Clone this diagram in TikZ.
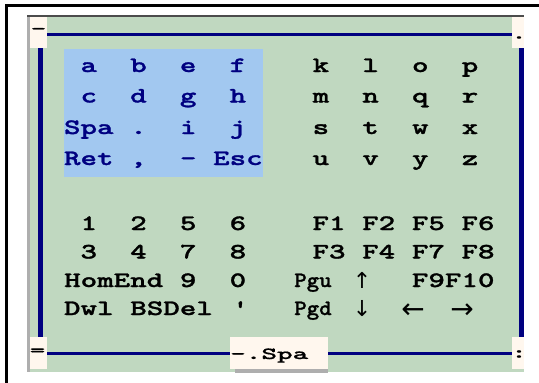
\documentclass[tikz,border=0pt]{standalone}
\usepackage{fontspec}
\newfontfamily\keyfont{lmmonolt10-bold}[Extension=.otf, FakeStretch=1.43, FakeBold=1.2]
\newfontfamily\narrowfont{lmmonolt10-bold}[Extension=.otf, FakeStretch=1.08, FakeBold=1.2]
\newfontfamily\tabfont{lmmonolt10-bold}[Extension=.otf, FakeStretch=1.75, FakeBold=0.8]
\newfontfamily\arrowfont{DejaVu Sans}
\definecolor{kbGreen}{HTML}{C0D8C0}
\definecolor{kbShade}{HTML}{AEAEAE}
\definecolor{kbNavy}{HTML}{000080}
\definecolor{kbSelect}{HTML}{A2C8F0}
\definecolor{kbCream}{HTML}{FFF7EE}

\begin{document}
\begin{tikzpicture}[x=1pt, y=-1pt,
  keycap/.style={anchor=base, inner sep=0pt, font=\fontsize{22}{22}\selectfont\keyfont},
  selcap/.style={keycap, text=kbNavy},
  pagecap/.style={keycap, font=\fontsize{22}{22}\selectfont\narrowfont},
  tabchar/.style={inner sep=0pt, font=\fontsize{17}{17}\selectfont\tabfont},
  arrowcap/.style={inner sep=0pt, font=\fontsize{22}{22}\selectfont\arrowfont},
  sidearrow/.style={arrowcap, font=\fontsize{28}{28}\selectfont\arrowfont}]
  \useasboundingbox (0,0) rectangle (539,383);
  \fill[white] (0,0) rectangle (539,383);
  % outer frame
  \fill[black] (5,4) rectangle (539,6.5);
  \fill[black] (5,4) rectangle (7.5,383);
  % panel
  \fill[kbGreen] (27,15) rectangle (524,372);
  \fill[kbShade] (27,15) rectangle (30,372);
  \fill[black!70] (27,15) rectangle (524,16.5);
  \fill[kbSelect] (64,49) rectangle (263,177);
  % navy frame
  \fill[kbNavy] (47,32.5) rectangle (512,35.5);
  \fill[kbNavy] (47,352) rectangle (230,355);
  \fill[kbNavy] (328,352) rectangle (512,355);
  \fill[kbNavy] (38,48) rectangle (43,337);
  \fill[kbNavy] (519,48) rectangle (524,337);
  % tabs
  \fill[kbCream] (30,17) rectangle (47,48);
  \fill[kbCream] (512,17) rectangle (524,48);
  \fill[kbCream] (30,337) rectangle (47,369);
  \fill[kbCream] (512,337) rectangle (524,369);
  \fill[kbShade] (235,369) rectangle (328,373);
  \fill[kbCream] (230,337) rectangle (328,369);
  \node[tabchar] (tabTL) at (38.5,31) {-};
  \node[tabchar] (tabTR) at (519,37.5) {.};
  \node[tabchar] (tabBL) at (37.5,352) {=};
  \node[tabchar] (tabBR) at (519,354) {:};
  \node[tabchar, anchor=base west] (tabMode) at (230,359) {-.Spa};

  % letters, selected group
  \node[selcap] (kA) at (88.8,72) {a};
  \node[selcap] (kB) at (138.5,72) {b};
  \node[selcap] (kE) at (188.2,72) {e};
  \node[selcap] (kF) at (237.9,72) {f};
  \node[selcap] (kC) at (88.8,102.5) {c};
  \node[selcap] (kD) at (138.5,102.5) {d};
  \node[selcap] (kG) at (188.2,102.5) {g};
  \node[selcap] (kH) at (237.9,102.5) {h};
  \node[selcap] (kSpa) at (88.8,134) {Spa};
  \node[selcap] (kDot) at (138.5,134) {.};
  \node[selcap] (kI) at (188.2,134) {i};
  \node[selcap] (kJ) at (237.9,134) {j};
  \node[selcap] (kRet) at (88.8,165) {Ret};
  \node[selcap] (kComma) at (138.5,165) {,};
  \node[selcap] (kMinus) at (188.2,165) {-};
  \node[selcap] (kEsc) at (237.9,165) {Esc};

  % letters, other group
  \node[keycap] (kK) at (320.9,72) {k};
  \node[keycap] (kL) at (370.6,72) {l};
  \node[keycap] (kO) at (420.3,72) {o};
  \node[keycap] (kP) at (470,72) {p};
  \node[keycap] (kM) at (320.9,102.5) {m};
  \node[keycap] (kN) at (370.6,102.5) {n};
  \node[keycap] (kQ) at (420.3,102.5) {q};
  \node[keycap] (kR) at (470,102.5) {r};
  \node[keycap] (kS) at (320.9,134) {s};
  \node[keycap] (kT) at (370.6,134) {t};
  \node[keycap] (kW) at (420.3,134) {w};
  \node[keycap] (kX) at (470,134) {x};
  \node[keycap] (kU) at (320.9,165) {u};
  \node[keycap] (kV) at (370.6,165) {v};
  \node[keycap] (kY) at (420.3,165) {y};
  \node[keycap] (kZ) at (470,165) {z};

  % digits and editing keys
  \node[keycap] (k1) at (88.8,230) {1};
  \node[keycap] (k2) at (138.5,230) {2};
  \node[keycap] (k5) at (188.2,230) {5};
  \node[keycap] (k6) at (237.9,230) {6};
  \node[keycap] (k3) at (88.8,258.5) {3};
  \node[keycap] (k4) at (138.5,258.5) {4};
  \node[keycap] (k7) at (188.2,258.5) {7};
  \node[keycap] (k8) at (237.9,258.5) {8};
  \node[keycap] (kHomEnd) at (113.7,287) {HomEnd};
  \node[keycap] (k9) at (188.2,287) {9};
  \node[keycap] (k0) at (237.9,287) {0};
  \node[keycap] (kDwl) at (88.8,315) {Dwl};
  \node[keycap] (kBSDel) at (171.6,315) {BSDel};
  \node[keycap] (kQuote) at (237.9,315) {\XeTeXglyph\XeTeXcharglyph"27\relax};

  % function and cursor keys
  \node[keycap] (kF1) at (329,230) {F1};
  \node[keycap] (kF2) at (378.7,230) {F2};
  \node[keycap] (kF5) at (428.4,230) {F5};
  \node[keycap] (kF6) at (478,230) {F6};
  \node[keycap] (kF3) at (329,258.5) {F3};
  \node[keycap] (kF4) at (378.7,258.5) {F4};
  \node[keycap] (kF7) at (428.4,258.5) {F7};
  \node[keycap] (kF8) at (478,258.5) {F8};
  \node[pagecap] (kPgu) at (313,287) {Pgu};
  \node[arrowcap] (kUp) at (362,280) {↑};
  \node[keycap] (kF9F10) at (453.2,287) {F9F10};
  \node[pagecap] (kPgd) at (313,315) {Pgd};
  \node[arrowcap] (kDown) at (362,308.5) {↓};
  \node[sidearrow] (kLeft) at (413,311) {←};
  \node[sidearrow] (kRight) at (462,311) {→};
\end{tikzpicture}
\end{document}
